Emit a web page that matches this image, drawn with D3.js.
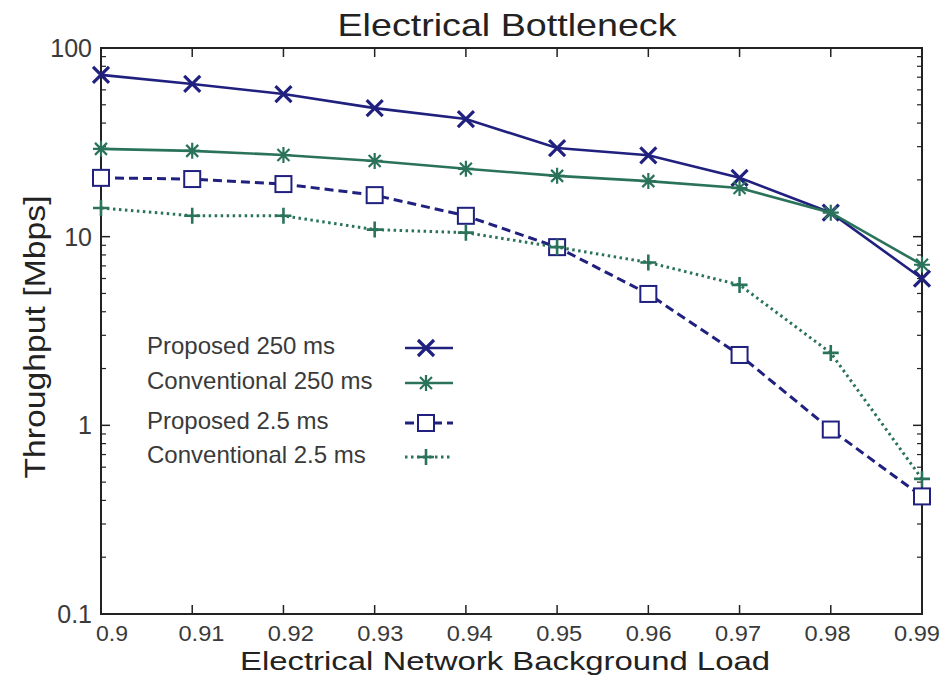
<!DOCTYPE html>
<html><head><meta charset="utf-8">
<script src="https://cdn.jsdelivr.net/npm/d3@7"></script>
<style>body{margin:0;background:#fff}svg{display:block}text{font-family:"Liberation Sans",Arial,sans-serif}</style>
</head><body>
<svg id="c" width="947" height="677"></svg>
<script>
const loads = [0.9,0.91,0.92,0.93,0.94,0.95,0.96,0.97,0.98,0.99];
const proposed250 = [72,64.5,57,48,42,29.5,27,20.5,13.4,6.0];
const conventional250 = [29.2,28.5,27.1,25.2,22.9,21,19.7,18.1,13.4,7.1];
const proposed25 = [20.5,20.2,19.0,16.6,12.9,8.8,4.97,2.36,0.95,0.42];
const conventional25 = [14.2,12.9,12.9,10.9,10.5,8.8,7.3,5.55,2.42,0.52];
const xTicks = [0.9,0.91,0.92,0.93,0.94,0.95,0.96,0.97,0.98,0.99];
const yTicks = [0.1,1,10,100];
const seriesNames = ["Proposed 250 ms","Conventional 250 ms","Proposed 2.5 ms","Conventional 2.5 ms"];

const navy = "#20207e", green = "#2a735a";
const series = [
  {name:seriesNames[0], vals:proposed250, color:navy, dash:null, marker:"x"},
  {name:seriesNames[1], vals:conventional250, color:green, dash:null, marker:"star"},
  {name:seriesNames[2], vals:proposed25, color:navy, dash:"9,5", marker:"square"},
  {name:seriesNames[3], vals:conventional25, color:green, dash:"2.5,3.5", marker:"plus"}
];

const svg = d3.select("#c");
const L=101, R=922, T=48, B=614;
const x = d3.scaleLinear().domain([0.9,0.99]).range([L,R]);
const xLab = d3.scaleLinear().domain([0.9,0.99]).range([112,917]);
const y = d3.scaleLog().domain([0.1,100]).range([B,T]);

// minor ticks (log)
const minors = [];
for (let d=0.1; d<100; d*=10) for (let k=2;k<=9;k++) minors.push(+(d*k).toPrecision(3));
const ax = svg.append("g").attr("stroke","#222");
minors.forEach(v=>{
  ax.append("line").attr("x1",L).attr("x2",L+5).attr("y1",y(v)).attr("y2",y(v)).attr("stroke-width",1.2);
  ax.append("line").attr("x1",R).attr("x2",R-5).attr("y1",y(v)).attr("y2",y(v)).attr("stroke-width",1.2);
});
yTicks.forEach(v=>{
  ax.append("line").attr("x1",L).attr("x2",L+9).attr("y1",y(v)).attr("y2",y(v)).attr("stroke-width",1.5);
  ax.append("line").attr("x1",R).attr("x2",R-9).attr("y1",y(v)).attr("y2",y(v)).attr("stroke-width",1.5);
});
xTicks.forEach(v=>{
  ax.append("line").attr("x1",x(v)).attr("x2",x(v)).attr("y1",B).attr("y2",B-9).attr("stroke-width",1.5);
  ax.append("line").attr("x1",x(v)).attr("x2",x(v)).attr("y1",T).attr("y2",T+9).attr("stroke-width",1.5);
});
svg.append("rect").attr("x",L).attr("y",T).attr("width",R-L).attr("height",B-T)
  .attr("fill","none").attr("stroke","#222").attr("stroke-width",2);

// tick labels
svg.append("g").selectAll("text").data(yTicks).join("text")
  .attr("x",L-9).attr("y",d=>y(d)+9).attr("text-anchor","end")
  .attr("font-size",25).attr("fill","#3a3a3a").text(d=>d3.format("~g")(d));
svg.append("g").selectAll("text").data(xTicks).join("text")
  .attr("x",d=>xLab(d)).attr("y",B+27).attr("text-anchor","middle")
  .attr("font-size",22).attr("fill","#3a3a3a").attr("textLength",d=>d===0.9?32:46).attr("lengthAdjust","spacingAndGlyphs")
  .text(d=>d3.format("~g")(d));

// titles
svg.append("text").attr("x",507).attr("y",36).attr("text-anchor","middle")
  .attr("font-size",32).attr("fill","#222").attr("textLength",339).attr("lengthAdjust","spacingAndGlyphs")
  .text("Electrical Bottleneck");
svg.append("text").attr("x",505).attr("y",670).attr("text-anchor","middle")
  .attr("font-size",26).attr("fill","#222").attr("textLength",530).attr("lengthAdjust","spacingAndGlyphs")
  .text("Electrical Network Background Load");
svg.append("text").attr("transform","translate(45,337) rotate(-90)").attr("text-anchor","middle")
  .attr("font-size",30).attr("fill","#222").attr("textLength",283).attr("lengthAdjust","spacingAndGlyphs")
  .text("Throughput [Mbps]");

function marker(g, type, cx, cy, color){
  const s=8;
  if(type==="x"){
    g.append("path").attr("d",`M${cx-s},${cy-s}L${cx+s},${cy+s}M${cx-s},${cy+s}L${cx+s},${cy-s}`)
      .attr("stroke",color).attr("stroke-width",3.2).attr("fill","none");
  } else if(type==="star"){
    g.append("path").attr("d",`M${cx-s},${cy}L${cx+s},${cy}M${cx},${cy-s}L${cx},${cy+s}M${cx-6},${cy-6}L${cx+6},${cy+6}M${cx-6},${cy+6}L${cx+6},${cy-6}`)
      .attr("stroke",color).attr("stroke-width",2.2).attr("fill","none");
  } else if(type==="square"){
    g.append("rect").attr("x",cx-8).attr("y",cy-8).attr("width",16).attr("height",16)
      .attr("fill","#fff").attr("stroke",color).attr("stroke-width",2);
  } else if(type==="plus"){
    g.append("path").attr("d",`M${cx-s},${cy}L${cx+s},${cy}M${cx},${cy-s}L${cx},${cy+s}`)
      .attr("stroke",color).attr("stroke-width",2.6).attr("fill","none");
  }
}

const line = d3.line().x((d,i)=>x(loads[i])).y(d=>y(d));
series.forEach(s=>{
  const g = svg.append("g");
  g.append("path").attr("d",line(s.vals)).attr("fill","none").attr("stroke",s.color)
    .attr("stroke-width",s.dash?3:2.6).attr("stroke-dasharray",s.dash);
  s.vals.forEach((v,i)=>marker(g,s.marker,x(loads[i]),y(v),s.color));
});

// legend
const ly=[348,383,423,457];
series.forEach((s,i)=>{
  const g=svg.append("g");
  g.append("text").attr("x",147).attr("y",ly[i]+6).attr("font-size",24).attr("fill","#3a3a3a").text(s.name);
  g.append("line").attr("x1",405).attr("x2",453).attr("y1",ly[i]).attr("y2",ly[i])
    .attr("stroke",s.color).attr("stroke-width",s.dash?3:2.6).attr("stroke-dasharray",s.dash);
  marker(g,s.marker,426,ly[i],s.color);
});
</script>
</body></html>
